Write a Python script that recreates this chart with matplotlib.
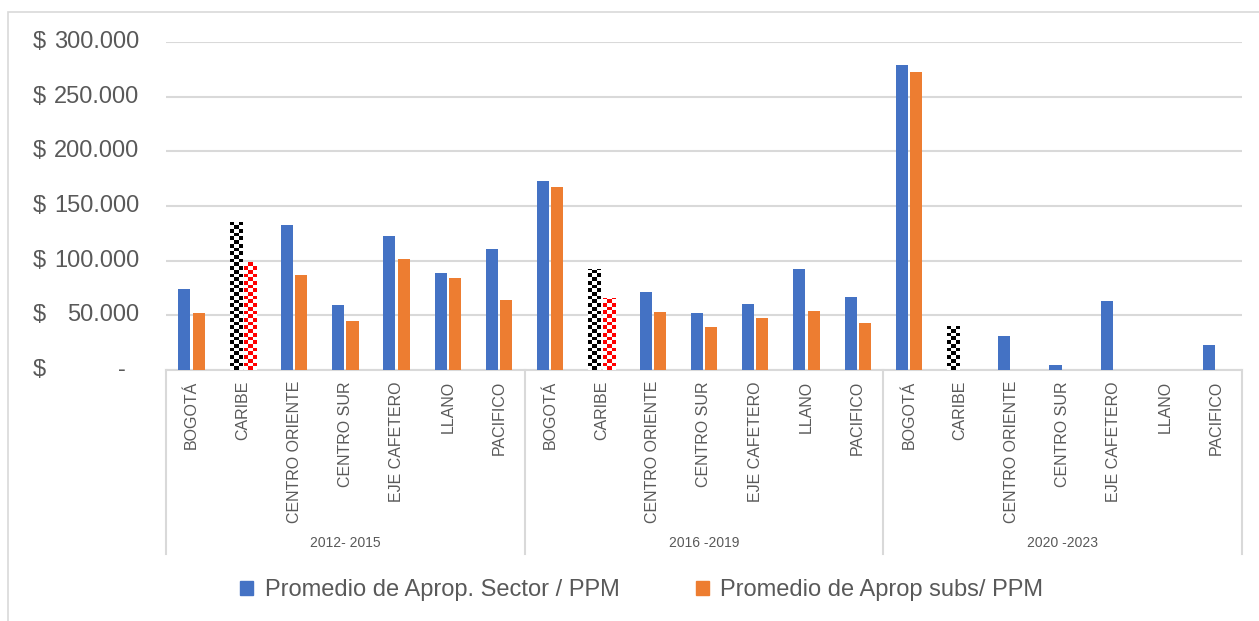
import numpy as np
import matplotlib
matplotlib.use('Agg')
import matplotlib.pyplot as plt
from matplotlib.colors import ListedColormap
from matplotlib.patches import Patch, Rectangle
from matplotlib.transforms import blended_transform_factory

plt.rcParams['font.family'] = ['Liberation Sans', 'DejaVu Sans']

# Data
periods = ['2012- 2015', '2016 -2019', '2020 -2023']
regions = ['BOGOTÁ', 'CARIBE', 'CENTRO ORIENTE', 'CENTRO SUR',
           'EJE CAFETERO', 'LLANO', 'PACIFICO']
sector_ppm = [74000, 135000, 133000, 59000, 123000, 89000, 111000,
              173000, 92000, 71000, 52000, 60500, 92700, 67000,
              279000, 40000, 31000, 4500, 63000, 0, 23000]
subs_ppm = [52000, 98500, 86500, 44500, 101800, 84400, 64000,
            167000, 65500, 53000, 39500, 47700, 54000, 43000,
            273000, 0, 0, 0, 0, 0, 0]
highlight = 'CARIBE'
yticks = [0, 50000, 100000, 150000, 200000, 250000, 300000]
series_names = ['Promedio de Aprop. Sector / PPM', 'Promedio de Aprop subs/ PPM']

blue = '#4472C4'
orange = '#ED7D31'
gray_txt = '#595959'
grid_c = '#D9D9D9'

W, H = 1259, 621
fig = plt.figure(figsize=(W / 100, H / 100), dpi=100)
ax = fig.add_axes([166 / W, 1 - 370 / H, (1242 - 166) / W, (370 - 42) / H])

labels = regions * len(periods)
x = np.arange(len(labels))
bw = 0.235
off = 0.14

ax.set_xlim(-0.5, len(labels) - 0.5)
ax.set_ylim(0, 300000)

bars_s = ax.bar(x - off, sector_ppm, bw, color=blue, zorder=3)
bars_o = ax.bar(x + off, subs_ppm, bw, color=orange, zorder=3)

# checker pattern on the highlighted region
cell_px = 3.7
ax_h_px = 370 - 42
cell_y = cell_px * 300000 / ax_h_px
for i, lab in enumerate(labels):
    if lab != highlight:
        continue
    for bar, col in ((bars_s[i], 'black'), (bars_o[i], 'red')):
        h = bar.get_height()
        if h <= 0:
            continue
        bar.set_facecolor('white')
        rows = int(np.ceil(h / cell_y))
        pat = (np.add.outer(np.arange(rows), np.arange(3)) % 2)
        x0 = bar.get_x()
        x1 = x0 + bar.get_width()
        im = ax.imshow(pat[::-1], cmap=ListedColormap(['white', col]),
                       extent=(x0, x1, 0, rows * cell_y), aspect='auto',
                       interpolation='nearest', zorder=4)
        im.set_clip_path(bar)

ax.set_xlim(-0.5, len(labels) - 0.5)
ax.set_ylim(0, 300000)

# grid and spines
ax.set_yticks(yticks)
ax.yaxis.grid(True, color=grid_c, linewidth=1.5, zorder=0)
ax.set_yticklabels([])
ax.tick_params(axis='y', length=0)
for s in ['top', 'right', 'left']:
    ax.spines[s].set_visible(False)
ax.spines['bottom'].set_color(grid_c)
ax.spines['bottom'].set_linewidth(1.5)

# category labels
ax.set_xticks(x)
ax.set_xticklabels(labels, rotation=90, fontsize=11.5, color=gray_txt, va='top')
ax.tick_params(axis='x', length=0, pad=8)

# group separators and period labels
trans = blended_transform_factory(ax.transData, ax.transAxes)
sep_bottom = -(554 - 370) / ax_h_px
n = len(regions)
for k in range(len(periods) + 1):
    xs = k * n - 0.5
    ax.plot([xs, xs], [0, sep_bottom], color=grid_c, linewidth=1.5,
            transform=trans, clip_on=False)
for k, p in enumerate(periods):
    ax.text(k * n + (n - 1) / 2, -(543 - 370) / ax_h_px, p, transform=trans,
            ha='center', va='center', fontsize=10, color=gray_txt)

# accounting style y labels
ytrans = blended_transform_factory(fig.transFigure, ax.transData)
for v in yticks:
    ax.text(33 / W, v, '$', transform=ytrans, ha='left', va='center',
            fontsize=17, color=gray_txt, clip_on=False)
    if v == 0:
        ax.text(126 / W, v, '-', transform=ytrans, ha='right', va='center',
                fontsize=17, color=gray_txt, clip_on=False)
    else:
        ax.text(139 / W, v, f'{v:,}'.replace(',', '.'), transform=ytrans,
                ha='right', va='center', fontsize=17, color=gray_txt,
                clip_on=False)

# chart area border (left and top visible)
fig.patches.append(Rectangle((8 / W, -0.1), 1.2, 1 - 12 / H + 0.1,
                             transform=fig.transFigure, fill=False,
                             edgecolor=grid_c, linewidth=1.2))

handles = [Patch(color=blue), Patch(color=orange)]
fig.legend(handles, series_names, loc='center', ncol=2,
           bbox_to_anchor=(642 / W, 1 - 590 / H), frameon=False,
           fontsize=17, labelcolor=gray_txt, handlelength=0.55,
           handleheight=0.55, handletextpad=0.5, columnspacing=3.2)

fig.savefig('out.png', dpi=100)
